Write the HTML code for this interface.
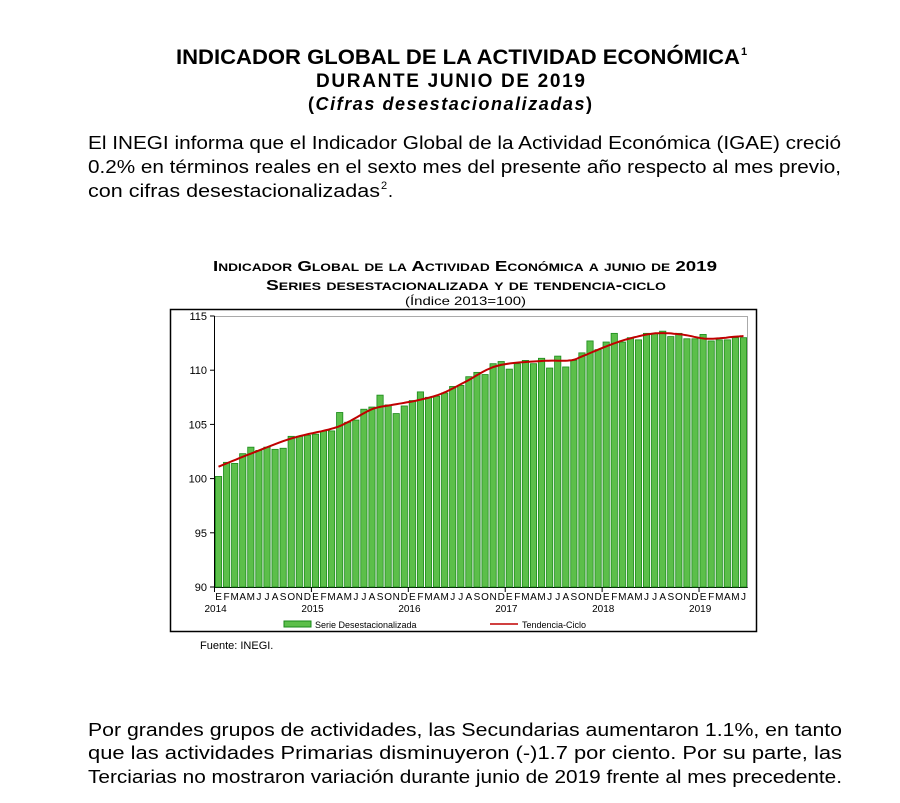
<!DOCTYPE html>
<html><head><meta charset="utf-8"><style>
html,body{margin:0;padding:0;background:#fff;}
svg{display:block;font-family:"Liberation Sans",sans-serif;}
</style></head><body>
<svg id="s" width="900" height="803" viewBox="0 0 900 803" xmlns="http://www.w3.org/2000/svg">
<g fill="#000">
<text x="176" y="64" font-size="21" font-weight="bold" textLength="564" lengthAdjust="spacingAndGlyphs">INDICADOR GLOBAL DE LA ACTIVIDAD ECONÓMICA</text>
<text x="741" y="55" font-size="11" font-weight="bold">1</text>
<text x="316" y="87" font-size="19" font-weight="bold" textLength="269" lengthAdjust="spacing">DURANTE JUNIO DE 2019</text>
<text x="308" y="110" font-size="18" font-weight="bold" textLength="284" lengthAdjust="spacing">(<tspan font-style="italic">Cifras desestacionalizadas</tspan>)</text>
<text x="88" y="149" font-size="18" textLength="753" lengthAdjust="spacingAndGlyphs">El INEGI informa que el Indicador Global de la Actividad Económica (IGAE) creció</text>
<text x="88" y="173" font-size="18" textLength="753" lengthAdjust="spacingAndGlyphs">0.2% en  términos reales en el sexto mes del presente año respecto al mes previo,</text>
<text x="88" y="197" font-size="18" textLength="292" lengthAdjust="spacingAndGlyphs">con cifras desestacionalizadas</text>
<text x="381" y="189" font-size="11">2</text><text x="388" y="197" font-size="18">.</text>
<text x="213" y="271" font-size="15" font-weight="bold" style="font-variant:small-caps" textLength="504" lengthAdjust="spacingAndGlyphs">Indicador Global de la Actividad Económica a junio de 2019</text>
<text x="266" y="290" font-size="15" font-weight="bold" style="font-variant:small-caps" textLength="400" lengthAdjust="spacingAndGlyphs">Series desestacionalizada y de tendencia-ciclo</text>
<text x="405" y="305" font-size="12" textLength="121" lengthAdjust="spacingAndGlyphs">(Índice 2013=100)</text>
<text x="200" y="649" font-size="11">Fuente: INEGI.</text>
<text x="88" y="736" font-size="18" textLength="754" lengthAdjust="spacingAndGlyphs">Por grandes grupos de actividades, las Secundarias aumentaron 1.1%, en tanto</text>
<text x="88" y="759" font-size="18" textLength="754" lengthAdjust="spacingAndGlyphs">que las actividades Primarias disminuyeron (-)1.7 por ciento. Por su parte, las</text>
<text x="88" y="783" font-size="18" textLength="754" lengthAdjust="spacingAndGlyphs">Terciarias no mostraron variación durante junio de 2019 frente al mes precedente.</text>
</g>
<rect x="170.5" y="309.5" width="586" height="322" fill="#fff" stroke="#000" stroke-width="1.5"/>
<rect x="214.5" y="316.5" width="533" height="271" fill="#fff" stroke="#aaa" stroke-width="1"/>
<g id="ch"></g>
<rect x="284" y="621" width="27" height="6" fill="#5cbf4a" stroke="#1a8a1a" stroke-width="1"/>
<text x="315" y="628" font-size="9">Serie Desestacionalizada</text>
<line x1="490" y1="624" x2="518" y2="624" stroke="#c00000" stroke-width="1.5"/>
<text x="522" y="628" font-size="9">Tendencia-Ciclo</text>
</svg>
<script>
var v=[100.2,101.5,101.4,102.3,102.9,102.6,102.9,102.7,102.8,103.9,103.9,104.0,
104.1,104.4,104.4,106.1,105.2,105.4,106.4,106.6,107.7,106.8,106.0,106.7,
107.2,108.0,107.5,107.6,107.9,108.5,108.6,109.4,109.8,109.6,110.6,110.8,
110.1,110.6,110.9,110.6,111.1,110.2,111.3,110.3,110.9,111.6,112.7,111.9,
112.6,113.4,112.6,113.0,112.8,113.4,113.4,113.6,113.1,113.4,112.9,112.9,
113.3,112.7,112.8,112.8,113.0,113.0];
var K=[[0.5,101.1],[4.5,102.3],[9.5,103.7],[14.5,104.6],[16.5,105.2],[19.5,106.4],[22,106.8],[25,107.2],[28,107.8],[31,108.9],[35,110.4],[40.5,110.85],[44,110.9],[45.6,111.3],[48.5,112.2],[51.3,112.9],[54.6,113.4],[57.8,113.3],[61,112.9],[64.6,113.1],[65.5,113.15]];
var g=document.getElementById('ch');
function Y(x){return 587-(x-90)*10.84;}
var x0=214.5,sw=533/66,h='';
[90,95,100,105,110,115].forEach(function(t){var y=Y(t);
h+='<line x1="210" x2="214.5" y1="'+y+'" y2="'+y+'" stroke="#000"/>';
h+='<text x="207" y="'+(y+4)+'" font-size="11" text-anchor="end">'+t+'</text>';});
h+='<line x1="214.5" x2="214.5" y1="316" y2="587" stroke="#000"/><line x1="214.5" x2="747.5" y1="587.5" y2="587.5" stroke="#000"/>';
var m="EFMAMJJASOND";
for(var i=0;i<66;i++){var x=x0+i*sw;
h+='<rect x="'+(x+0.9)+'" y="'+Y(v[i])+'" width="'+(sw-1.8)+'" height="'+(587-Y(v[i]))+'" fill="#5cbf4a" stroke="#1a8a1a" stroke-width="0.8"/>';
h+='<text x="'+(x+sw/2)+'" y="600" font-size="10" text-anchor="middle">'+m[i%12]+'</text>';
if(i%12==0){h+='<line x1="'+x+'" x2="'+x+'" y1="587" y2="592" stroke="#000"/><text x="'+(x-10)+'" y="612" font-size="10">'+(2014+i/12)+'</text>';}}
var p=[];
for(var a=0;a<K.length-1;a++){
 var P0=K[Math.max(a-1,0)],P1=K[a],P2=K[a+1],P3=K[Math.min(a+2,K.length-1)];
 for(var s=0;s<10;s++){var t=s/10,t2=t*t,t3=t2*t;
  function cr(p0,p1,p2,p3){return 0.5*((2*p1)+(-p0+p2)*t+(2*p0-5*p1+4*p2-p3)*t2+(-p0+3*p1-3*p2+p3)*t3);}
  var xx=cr(P0[0],P1[0],P2[0],P3[0]),yy=cr(P0[1],P1[1],P2[1],P3[1]);
  p.push((x0+xx*sw).toFixed(1)+','+Y(yy).toFixed(1));}}
var L=K[K.length-1];p.push((x0+L[0]*sw).toFixed(1)+','+Y(L[1]).toFixed(1));
h+='<polyline points="'+p.join(' ')+'" fill="none" stroke="#c00000" stroke-width="2"/>';
g.innerHTML=h;
</script>
</body></html>
